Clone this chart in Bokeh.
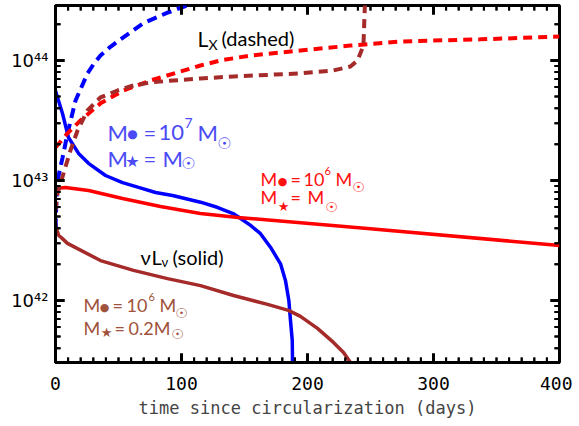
import math
from bokeh.plotting import figure
from bokeh.models import FixedTicker, CustomJSTickFormatter
from bokeh.core.properties import value
from bokeh.embed import file_html
from bokeh.resources import INLINE

# ---------------- data ----------------
x_ticks = [0, 100, 200, 300, 400]
x_minor = list(range(0, 401, 10))
y_ticks = [1e42, 1e43, 1e44]
y_minor = [k * 10.0 ** n for n in range(41, 45) for k in range(2, 10)]

# M_BH = 1e7, M* = 1 Msun
t_blue_solid = [0, 5.6, 10.3, 18.3, 26.2, 39.7, 53.2, 65.9, 79.4, 92.9, 115.1, 128.3, 141.5, 145.5,
                154.8, 162.7, 170.6, 178.6, 182.5, 185.2, 186.5, 187.9, 188.1, 188.6]
L_blue_solid = [5.6e43, 3.6e43, 2.28e43, 1.68e43, 1.39e43, 1.10e43, 9.6e42, 8.75e42, 7.94e42, 7.5e42,
                6.59e42, 5.98e42, 5.27e42, 4.94e42, 4.22e42, 3.60e42, 2.78e42, 2.02e42, 1.47e42,
                1.0e42, 6.81e41, 4.64e41, 3.16e41, 1.5e41]
t_blue_dash = [0, 0.8, 1.6, 5.6, 9.5, 15.9, 25.4, 30.2, 35.7, 43.6, 51.6, 69.8, 88.9, 101.6, 112]
L_blue_dash = [3.98e42, 7.08e42, 1.0e43, 1.55e43, 2.45e43, 4.64e43, 7.8e43, 9.3e43, 1.1e44, 1.3e44,
               1.5e44, 2.05e44, 2.5e44, 2.8e44, 3.1e44]

# M_BH = 1e6, M* = 1 Msun
t_red_solid = [0, 7.9, 26.2, 53.2, 83.3, 115, 145, 247.6, 400]
L_red_solid = [8.57e42, 8.75e42, 8.26e42, 7.08e42, 6.07e42, 5.31e42, 4.92e42, 3.98e42, 2.87e42]
t_red_dash = [0, 9.5, 19.8, 35.7, 54, 75.4, 96.8, 115, 131, 154.8, 194.4, 234, 273.8, 337.3, 400]
L_red_dash = [1.88e43, 2.47e43, 3.16e43, 4.39e43, 5.62e43, 6.81e43, 7.94e43, 9.08e43, 1.0e44, 1.10e44,
              1.21e44, 1.33e44, 1.44e44, 1.50e44, 1.58e44]

# M_BH = 1e6, M* = 0.2 Msun
t_brown_solid = [0, 1.3, 2.6, 5.3, 9.5, 35.7, 61.9, 88.9, 115.1, 141.3, 168.3, 184.9, 194.4, 207.9,
                 220.6, 228.6, 234.1, 236]
L_brown_solid = [4.39e42, 3.83e42, 3.48e42, 3.29e42, 2.99e42, 2.15e42, 1.78e42, 1.52e42, 1.33e42,
                 1.10e42, 9.27e41, 8.26e41, 7.36e41, 5.85e41, 4.47e41, 3.69e41, 3.04e41, 2.0e41]
t_brown_dash = [0, 1.6, 6.3, 11.9, 17.5, 25.4, 35.7, 49.2, 61.9, 75.4, 93.7, 115, 141.3, 194.4, 220.6,
                234.1, 239.7, 244.4, 246]
L_brown_dash = [5.62e42, 7.8e42, 1.14e43, 1.78e43, 2.61e43, 3.83e43, 4.92e43, 5.62e43, 6.19e43, 6.56e43,
                6.81e43, 7.08e43, 7.36e43, 7.8e43, 8.26e43, 8.91e43, 1.0e44, 1.33e44, 3.98e44]

# ---------------- figure ----------------
X_LO, X_HI = 0, 400
Y_LO, Y_HI = 10 ** 41.483, 10 ** 44.458
FRAME_W, FRAME_H = 504, 357
p = figure(width=572, height=422, y_axis_type="log", x_range=(X_LO, X_HI), y_range=(Y_LO, Y_HI),
           output_backend="svg", toolbar_location=None,
           min_border_left=55, min_border_right=13, min_border_top=5, min_border_bottom=60)
p.grid.visible = False
p.outline_line_color = "black"
p.outline_line_width = 3
p.background_fill_color = "white"

sup_fmt = CustomJSTickFormatter(code="""
const sup = {'0':'\u2070','1':'\u00b9','2':'\u00b2','3':'\u00b3','4':'\u2074','5':'\u2075','6':'\u2076','7':'\u2077','8':'\u2078','9':'\u2079','-':'\u207b'};
const e = Math.round(Math.log10(tick));
return '10' + String(e).split('').map(c => sup[c]).join('');
""")

AXF = "DejaVu Sans Mono"
for ax in (p.xaxis[0], p.yaxis[0]):
    ax.axis_line_width = 3
    ax.axis_line_color = "black"
    ax.major_tick_in = 0
    ax.major_tick_out = 0
    ax.minor_tick_in = 0
    ax.minor_tick_out = 0
    ax.major_label_text_font_size = "18px"
    ax.major_label_text_color = "black"

xa = p.xaxis[0]
xa.ticker = FixedTicker(ticks=x_ticks, minor_ticks=x_minor)
xa.major_label_text_font = AXF
xa.major_label_standoff = 14
xa.axis_label = "time since circularization (days)"
xa.axis_label_text_font = AXF
xa.axis_label_text_font_size = "17px"
xa.axis_label_text_font_style = "normal"
xa.axis_label_standoff = 5

ya = p.yaxis[0]
ya.ticker = FixedTicker(ticks=y_ticks, minor_ticks=y_minor)
ya.formatter = sup_fmt
ya.major_label_text_font = "DejaVu Sans"
ya.major_label_standoff = 7

BLUE, RED, BROWN = "#0000ff", "#ff0000", "#a52a2a"
p.line(t_blue_solid, L_blue_solid, line_color=BLUE, line_width=3.5)
p.line(t_red_solid, L_red_solid, line_color=RED, line_width=3.5)
p.line(t_brown_solid, L_brown_solid, line_color=BROWN, line_width=3.5)
p.line(t_blue_dash, L_blue_dash, line_color=BLUE, line_width=4, line_dash="10 6")
p.line(t_red_dash, L_red_dash, line_color=RED, line_width=4, line_dash="9 6")
p.line(t_brown_dash, L_brown_dash, line_color=BROWN, line_width=4, line_dash="9 6")

# inward ticks on all four sides
px_per_day = FRAME_W / (X_HI - X_LO)
px_per_dec = FRAME_H / (44.458 - 41.483)

def tick_paths(vals_x, vals_y, length):
    xs, ys = [], []
    f = 10 ** (length / px_per_dec)
    dx = length / px_per_day
    for v in vals_x:
        xs += [[v, v], [v, v]]
        ys += [[Y_LO, Y_LO * f], [Y_HI, Y_HI / f]]
    for v in vals_y:
        if Y_LO < v < Y_HI:
            xs += [[X_LO, X_LO + dx], [X_HI, X_HI - dx]]
            ys += [[v, v], [v, v]]
    return xs, ys

def tick_rays(vals_x, vals_y, length, lw):
    n = len(vals_x)
    p.ray(x=vals_x, y=[Y_LO] * n, length=length, length_units="screen", angle=math.pi / 2,
          line_color="black", line_width=lw)
    p.ray(x=vals_x, y=[Y_HI] * n, length=length, length_units="screen", angle=-math.pi / 2,
          line_color="black", line_width=lw)
    vy = [v for v in vals_y if Y_LO < v < Y_HI]
    m = len(vy)
    p.ray(x=[X_LO] * m, y=vy, length=length, length_units="screen", angle=0,
          line_color="black", line_width=lw)
    p.ray(x=[X_HI] * m, y=vy, length=length, length_units="screen", angle=math.pi,
          line_color="black", line_width=lw)

mxs, mys = tick_paths(x_minor, y_minor, 5)
p.multi_line(mxs, mys, line_color="black", line_width=2)
Mxs, Mys = tick_paths(x_ticks, y_ticks, 9)
p.multi_line(Mxs, Mys, line_color="black", line_width=3)
tick_rays(x_minor, y_minor, 5, 2)
tick_rays(x_ticks, y_ticks, 9, 3)

# ---------------- annotations (positioned in reference-pixel terms) ----------------
def d_x(px):
    return (px - 55) / 1.26

def d_y(py):
    return 10 ** (44 - (py - 60) / 120.0)

def put(px, py, s, size, color, font="Lato", align="left"):
    p.text(x=[d_x(px)], y=[d_y(py)], text=[s], text_font=value(font), text_font_size=f"{size}px",
           text_color=color, text_baseline="alphabetic", text_align=align)

SYM = "DejaVu Sans"
def sym(cx, cy, s, size, color):
    put(cx, cy + 0.37 * size, s, size, color, SYM, "center")

# L_X (dashed)
put(197, 38, "L", 21, "black")
put(208, 44, "X", 14, "black")
put(221, 38, "(dashed)", 20, "black")
# nu L_nu (solid)
put(140, 257, "\u03bd", 20, "black")
put(151, 257, "L", 20, "black")
put(161, 262, "\u03bd", 13, "black")
put(172, 257, "(solid)", 20, "black")

# blue label
TB = "#4b4bf5"
put(107, 132, "M", 22, TB)
sym(132, 129, "\u25cf", 12, TB)
put(143, 132, "=", 22, TB)
put(158, 132, "10", 22, TB)
put(184, 123, "7", 14, TB)
put(197, 132, "M", 22, TB)
sym(224, 137, "\u2609", 16, TB)
put(107, 158, "M", 22, TB)
sym(132, 155, "\u2605", 16, TB)
put(143, 158, "=", 22, TB)
put(162, 158, "M", 22, TB)
sym(188, 157, "\u2609", 16, TB)

# red label
TR = "#ff1010"
put(260, 179, "M", 18, TR)
sym(282, 177, "\u25cf", 11, TR)
put(290, 179, "=", 18, TR)
put(303, 179, "10", 18, TR)
put(324, 171, "6", 11, TR)
put(335, 179, "M", 18, TR)
sym(358, 181, "\u2609", 14, TR)
put(260, 197, "M", 18, TR)
sym(283, 201, "\u2605", 13, TR)
put(290, 197, "=", 18, TR)
put(307, 197, "M", 18, TR)
sym(331, 201, "\u2609", 14, TR)

# brown label
TW = "#a0523c"
put(83, 305, "M", 18, TW)
sym(104, 303, "\u25cf", 11, TW)
put(112, 305, "=", 18, TW)
put(126, 305, "10", 18, TW)
put(148, 297, "6", 11, TW)
put(159, 305, "M", 18, TW)
sym(181, 307, "\u2609", 14, TW)
put(83, 328, "M", 18, TW)
sym(106, 327, "\u2605", 13, TW)
put(114, 328, "=", 18, TW)
put(128, 328, "0.2M", 18, TW)
sym(177, 328, "\u2609", 14, TW)

open("out.html", "w").write(file_html(p, INLINE))
